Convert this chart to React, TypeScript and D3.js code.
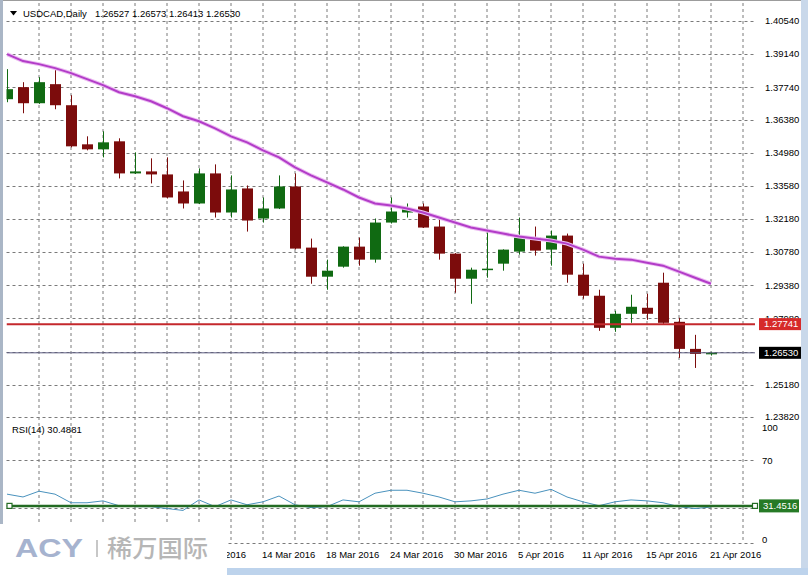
import React from 'react';
import * as d3 from 'd3';

// daily bars, 19 Feb 2016 .. 21 Apr 2016
const days = [
  '19 Feb', '22 Feb', '23 Feb', '24 Feb', '25 Feb', '26 Feb', '29 Feb', '1 Mar', '2 Mar', '3 Mar',
  '4 Mar', '7 Mar', '8 Mar', '9 Mar', '10 Mar', '11 Mar', '14 Mar', '15 Mar', '16 Mar', '17 Mar',
  '18 Mar', '21 Mar', '22 Mar', '23 Mar', '24 Mar', '25 Mar', '28 Mar', '29 Mar', '30 Mar', '31 Mar',
  '1 Apr', '4 Apr', '5 Apr', '6 Apr', '7 Apr', '8 Apr', '11 Apr', '12 Apr', '13 Apr', '14 Apr',
  '15 Apr', '18 Apr', '19 Apr', '20 Apr', '21 Apr',
];

const opens = [
  1.37238, 1.37746, 1.37068, 1.37873, 1.36984, 1.35333, 1.35121, 1.3546, 1.34105, 1.34189,
  1.34062, 1.33343, 1.32835, 1.34105, 1.32454, 1.3347, 1.322, 1.32623, 1.33554, 1.30972,
  1.29744, 1.30167, 1.31014, 1.30464, 1.3203, 1.32454, 1.32708, 1.31861, 1.30718, 1.29659,
  1.3004, 1.30294, 1.30803, 1.31395, 1.30887, 1.3148, 1.29829, 1.2894, 1.27585, 1.28178,
  1.28432, 1.2949, 1.27839, 1.26696, 1.26527,
];
const highs = [
  1.38508, 1.37957, 1.38169, 1.38593, 1.37407, 1.35671, 1.35883, 1.35587, 1.34994, 1.3474,
  1.34782, 1.33808, 1.34317, 1.34486, 1.3402, 1.33597, 1.33089, 1.3402, 1.34105, 1.31353,
  1.30464, 1.3103, 1.31395, 1.322, 1.33089, 1.32835, 1.32835, 1.322, 1.3074, 1.30125,
  1.31776, 1.309, 1.32242, 1.31861, 1.31692, 1.31565, 1.30294, 1.29194, 1.28305, 1.28982,
  1.29024, 1.29913, 1.28008, 1.27289, 1.26573,
];
const lows = [
  1.37111, 1.36645, 1.3704, 1.36814, 1.35206, 1.35079, 1.34782, 1.33893, 1.3408, 1.33681,
  1.33046, 1.32623, 1.3281, 1.32242, 1.32242, 1.31649, 1.3203, 1.326, 1.309, 1.29448,
  1.29194, 1.30125, 1.3021, 1.30337, 1.31988, 1.32242, 1.318, 1.30464, 1.29067, 1.28601,
  1.29702, 1.29998, 1.30676, 1.30633, 1.3021, 1.2949, 1.28813, 1.27458, 1.27416, 1.27797,
  1.27924, 1.27754, 1.26315, 1.25891, 1.26413,
];
const closes = [
  1.37661, 1.37068, 1.37957, 1.36984, 1.35248, 1.35121, 1.35417, 1.34105, 1.34189, 1.34062,
  1.33089, 1.32835, 1.34105, 1.32454, 1.33427, 1.32115, 1.32623, 1.33554, 1.3093, 1.29744,
  1.29998, 1.31014, 1.30464, 1.3203, 1.32496, 1.32623, 1.31819, 1.30718, 1.29659, 1.3004,
  1.30083, 1.30887, 1.31395, 1.30845, 1.3148, 1.29829, 1.2894, 1.27585, 1.28178, 1.28474,
  1.28178, 1.27797, 1.26696, 1.26484, 1.2653,
];
const maValues = [
  1.39143, 1.38847, 1.3872, 1.3855, 1.38339, 1.38085, 1.3783, 1.37534, 1.37365, 1.37153,
  1.36857, 1.36518, 1.36306, 1.3601, 1.35671, 1.35417, 1.35079, 1.34782, 1.34359, 1.3402,
  1.33724, 1.33427, 1.33089, 1.32835, 1.3275, 1.32623, 1.32454, 1.32242, 1.3203, 1.31819,
  1.31692, 1.31565, 1.31438, 1.31353, 1.31268, 1.31141, 1.30887, 1.30591, 1.30506, 1.30464,
  1.30337, 1.3021, 1.29956, 1.29702, 1.29448,
];
const rsiValues = [
  41.4, 39.0, 43.9, 41.4, 34.1, 34.1, 35.7, 31.6, 30.8, 30.8,
  29.2, 27.6, 36.5, 30.8, 36.5, 32.4, 34.9, 39.8, 32.4, 30.0,
  30.8, 36.5, 34.9, 42.2, 44.7, 44.7, 42.2, 39.0, 34.9, 35.7,
  37.3, 41.4, 44.7, 42.2, 45.5, 39.0, 34.9, 31.6, 34.9, 36.5,
  35.7, 34.1, 30.8, 29.2, 30.49,
];

const priceTicks = [1.4054, 1.3914, 1.3774, 1.3638, 1.3498, 1.3358, 1.3218, 1.3078, 1.2938, 1.2798, 1.2658, 1.2518, 1.2382];
const rsiTicks = [100, 70, 0];
const rsiLevels = [70, 30, 0];
const redLevel = 1.27741;
const bidPrice = 1.2653;
const rsiMark = 31.4516;

const font = '"Liberation Sans", Arial, sans-serif';
const grid = '#7a7a7a';
const bull = '#106a12';
const bear = '#7c0c0c';

export default function App() {
  const n = days.length;
  const x = d3.scaleLinear().domain([0, n - 1]).range([7, 711]);
  const y = d3.scaleLinear().domain([1.2382, 1.4054]).range([417, 21]);
  const yr = d3.scaleLinear().domain([0, 100]).range([543, 425]);

  const left = 6.5;
  const right = 755;

  const maLine = d3.line<number>().x((_, i) => x(i)).y(d => y(d));
  const rsiLine = d3.line<number>().x((_, i) => x(i)).y(d => yr(d));

  const vGrid = d3.range(2, n + 2, 2);
  // the first few time labels sit under the watermark
  const labelIdx = d3.range(0, n, 4).filter(i => x(i) > 150);
  // tick labels covered by the bid tag are not drawn
  const priceLabels = priceTicks.filter(p => Math.abs(y(p) - y(bidPrice)) > 6);

  const tagY = (v: number) => Math.min(Math.max(yr(v), 428), 540);

  return (
    <div style={{ position: 'fixed', left: 0, top: 0 }}>
      <svg width={808} height={575} style={{ display: 'block', fontFamily: font }}>
        <defs>
          <clipPath id="pricePane">
            <rect x={left} y={3} width={right - left} height={418} />
          </clipPath>
          <clipPath id="rsiPane">
            <rect x={left} y={421} width={right - left} height={124} />
          </clipPath>
        </defs>
        <rect width={808} height={575} fill="#fff" />

        {/* frame */}
        <line x1={0} x2={808} y1={0.5} y2={0.5} stroke="#9c9c9c" />
        <rect x={0} y={0} width={3} height={575} fill="#aab6c6" />
        <rect x={801} y={0} width={7} height={575} fill="#c9d8ea" />

        {/* grid */}
        {vGrid.map(i => (
          <line key={'v' + i} x1={x(i)} x2={x(i)} y1={3} y2={543}
            stroke={grid} strokeDasharray="3,3" />
        ))}
        {priceTicks.map(p => (
          <line key={'h' + p} x1={left} x2={right} y1={Math.round(y(p)) + 0.5} y2={Math.round(y(p)) + 0.5}
            stroke={grid} strokeDasharray="3,3" />
        ))}
        {rsiLevels.map(v => (
          <line key={'r' + v} x1={left} x2={right} y1={Math.round(yr(v)) + 0.5} y2={Math.round(yr(v)) + 0.5}
            stroke={grid} strokeDasharray="3,3" />
        ))}

        {/* price axis labels */}
        {priceLabels.map(p => (
          <text key={'pl' + p} x={765} y={y(p)} dy="0.35em" fontSize={9.5} fill="#000">
            {p.toFixed(5)}
          </text>
        ))}
        {rsiTicks.map(v => (
          <text key={'rl' + v} x={762} y={tagY(v)} dy="0.35em" fontSize={9.5} fill="#000">
            {v}
          </text>
        ))}

        {/* candles */}
        <g clipPath="url(#pricePane)">
          {days.map((d, i) => {
            const up = closes[i] >= opens[i];
            const c = up ? bull : bear;
            const top = y(Math.max(opens[i], closes[i]));
            const bot = y(Math.min(opens[i], closes[i]));
            const cx = Math.round(x(i)) + 0.5;
            return (
              <g key={d}>
                <line x1={cx} x2={cx} y1={y(highs[i])} y2={y(lows[i])} stroke={c} strokeWidth={1} />
                <rect x={cx - 5.5} y={top} width={11} height={Math.max(1.5, bot - top)} fill={c} />
              </g>
            );
          })}
          <path d={maLine(maValues) || ''} fill="none" stroke="#ecbdf2" strokeWidth={4} />
          <path d={maLine(maValues) || ''} fill="none" stroke="#b23cc8" strokeWidth={2} />
          <line x1={left} x2={right} y1={y(bidPrice)} y2={y(bidPrice)} stroke="#5d5d80" strokeWidth={1} />
          <line x1={left} x2={right} y1={y(redLevel)} y2={y(redLevel)} stroke="#c4282c" strokeWidth={2} />
        </g>

        {/* RSI */}
        <g clipPath="url(#rsiPane)">
          <path d={rsiLine(rsiValues) || ''} fill="none" stroke="#4a92bd" strokeWidth={1} />
          <line x1={left} x2={right} y1={yr(rsiMark)} y2={yr(rsiMark)} stroke="#236b23" strokeWidth={2.5} />
        </g>
        <rect x={7} y={yr(rsiMark) - 2.5} width={5} height={5} fill="#fff" stroke="#236b23" strokeWidth={1.2} />
        <rect x={752.5} y={yr(rsiMark) - 2.5} width={5} height={5} fill="#fff" stroke="#236b23" strokeWidth={1.2} />

        {/* price tags */}
        <rect x={759} y={y(redLevel) - 6} width={42} height={12} fill="#d62a2a" />
        <text x={764} y={y(redLevel)} dy="0.35em" fontSize={9.5} fill="#fff">{redLevel.toFixed(5)}</text>
        <rect x={759} y={y(bidPrice) - 6} width={42} height={12} fill="#000" />
        <text x={764} y={y(bidPrice)} dy="0.35em" fontSize={9.5} fill="#fff">{bidPrice.toFixed(5)}</text>
        <rect x={759} y={yr(rsiMark) - 6.5} width={40} height={13} fill="#267a26" />
        <text x={763} y={yr(rsiMark)} dy="0.35em" fontSize={9.5} fill="#fff">{rsiMark.toFixed(4)}</text>

        {/* headers */}
        <polygon points="10,11 17,11 13.5,15.5" fill="#000" />
        <text x={23} y={14} dy="0.35em" fontSize={9.5} fill="#000">USDCAD,Daily</text>
        <text x={95} y={14} dy="0.35em" fontSize={9.5} fill="#000" style={{ whiteSpace: 'pre' }}>
          {[opens[n - 1], highs[n - 1], lows[n - 1], closes[n - 1]].map(v => v.toFixed(5)).join(' ')}
        </text>
        <text x={12} y={430} dy="0.35em" fontSize={9.5} fill="#000">RSI(14) 30.4881</text>

        {/* time axis */}
        {labelIdx.map(i => (
          <text key={'t' + i} x={x(i) - 1} y={555} dy="0.35em" fontSize={9.5} fill="#000">
            {days[i] + ' 2016'}
          </text>
        ))}
        <rect x={227} y={568} width={581} height={7} fill="#bdd3ec" />

        {/* watermark */}
        <rect x={0} y={524} width={227} height={51} fill="#fff" />
        <text x={15} y={557} fontSize={25} fontWeight={900} fill="#a6b3cf" textLength={68}
          lengthAdjust="spacingAndGlyphs">ACY</text>
        <line x1={97} x2={97} y1={540} y2={557} stroke="#b4b4b4" strokeWidth={1.5} />
        <text x={107} y={557} fontSize={24} fontWeight={500} fill="#b6b6b6"
          fontFamily='"Noto Sans CJK SC", sans-serif'
          textLength={101} lengthAdjust="spacingAndGlyphs">稀万国际</text>
      </svg>
    </div>
  );
}
